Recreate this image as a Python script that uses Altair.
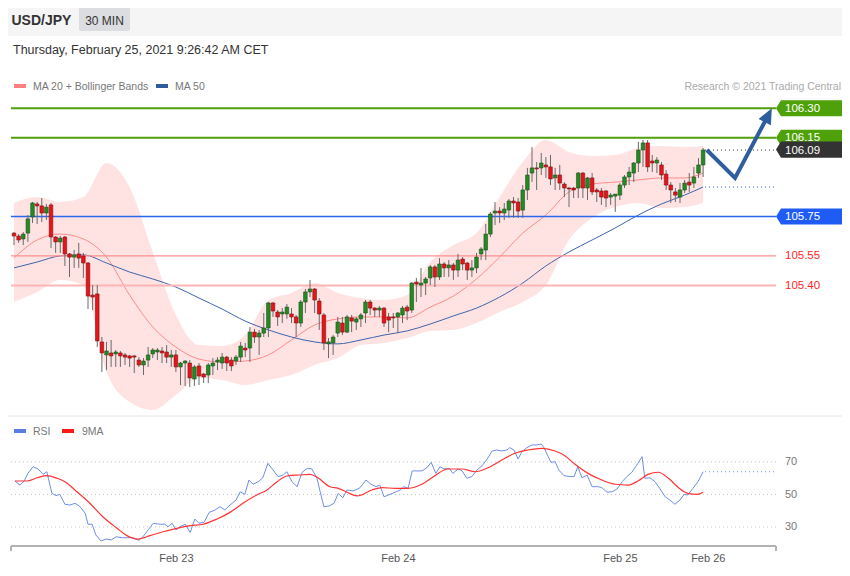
import altair as alt
import pandas as pd

FONT = "Liberation Sans, Arial, Helvetica, sans-serif"

# ---------------- data ----------------
OPEN = [105.666, 105.651, 105.636, 105.666, 105.748, 105.814, 105.804, 105.768, 105.809, 105.646,
        105.621, 105.646, 105.560, 105.544, 105.560, 105.550, 105.514, 105.351, 105.357, 105.113,
        105.047, 105.057, 105.052, 105.057, 105.047, 105.042, 105.042, 105.021, 104.996, 105.021,
        105.052, 105.062, 105.067, 105.062, 105.036, 105.047, 104.986, 105.006, 105.006, 104.925,
        104.991, 104.950, 104.945, 104.991, 105.011, 105.006, 105.036, 105.021, 105.016, 105.036,
        105.082, 105.082, 105.163, 105.138, 105.158, 105.184, 105.311, 105.265, 105.255, 105.255,
        105.255, 105.240, 105.209, 105.316, 105.367, 105.382, 105.321, 105.250, 105.103, 105.108,
        105.158, 105.209, 105.163, 105.235, 105.214, 105.230, 105.260, 105.316, 105.285, 105.275,
        105.285, 105.240, 105.240, 105.240, 105.250, 105.290, 105.275, 105.417, 105.402, 105.412,
        105.438, 105.494, 105.443, 105.509, 105.489, 105.504, 105.478, 105.534, 105.514, 105.478,
        105.489, 105.560, 105.580, 105.661, 105.768, 105.778, 105.768, 105.783, 105.829, 105.824,
        105.783, 105.885, 105.971, 105.997, 105.997, 106.012, 106.002, 105.946, 105.961, 105.915,
        105.895, 105.895, 105.895, 105.971, 105.895, 105.946, 105.885, 105.880, 105.880, 105.849,
        105.854, 105.859, 105.910, 105.951, 105.971, 106.022, 106.088, 106.124, 106.032, 106.022,
        106.012, 105.966, 105.910, 105.875, 105.849, 105.885, 105.925, 105.920, 105.971, 106.012]
HIGH = [105.671, 105.661, 105.671, 105.758, 105.824, 105.824, 105.844, 105.814, 105.819, 105.651,
        105.651, 105.651, 105.565, 105.580, 105.616, 105.565, 105.519, 105.402, 105.402, 105.138,
        105.113, 105.123, 105.072, 105.067, 105.057, 105.047, 105.047, 105.036, 105.031, 105.087,
        105.082, 105.082, 105.087, 105.097, 105.072, 105.072, 105.011, 105.021, 105.021, 104.996,
        105.006, 104.955, 105.006, 105.031, 105.036, 105.057, 105.042, 105.036, 105.047, 105.113,
        105.108, 105.189, 105.179, 105.174, 105.260, 105.316, 105.316, 105.275, 105.285, 105.306,
        105.285, 105.250, 105.326, 105.382, 105.428, 105.387, 105.336, 105.260, 105.133, 105.148,
        105.240, 105.240, 105.250, 105.250, 105.240, 105.260, 105.326, 105.326, 105.290, 105.296,
        105.290, 105.260, 105.260, 105.265, 105.296, 105.301, 105.417, 105.438, 105.489, 105.443,
        105.504, 105.504, 105.539, 105.519, 105.529, 105.514, 105.560, 105.544, 105.519, 105.529,
        105.565, 105.595, 105.712, 105.773, 105.824, 105.798, 105.819, 105.839, 105.849, 105.844,
        105.910, 105.997, 106.103, 106.027, 106.073, 106.052, 106.063, 105.997, 106.012, 105.925,
        105.900, 105.900, 105.976, 105.976, 105.951, 105.971, 105.895, 105.895, 105.885, 105.870,
        105.864, 105.920, 105.961, 106.002, 106.027, 106.129, 106.139, 106.139, 106.063, 106.052,
        106.027, 105.986, 105.925, 105.895, 105.920, 105.936, 105.971, 106.002, 106.047, 106.098]
LOW = [105.605, 105.616, 105.605, 105.621, 105.717, 105.712, 105.722, 105.732, 105.590, 105.565,
       105.565, 105.499, 105.443, 105.489, 105.489, 105.438, 105.280, 105.275, 105.087, 104.960,
       104.970, 104.986, 104.986, 104.986, 104.996, 104.986, 104.955, 104.986, 104.945, 104.986,
       105.031, 105.021, 105.006, 105.006, 104.986, 104.960, 104.894, 104.889, 104.884, 104.889,
       104.894, 104.904, 104.904, 104.945, 104.970, 104.976, 104.965, 104.965, 104.996, 105.011,
       105.036, 105.011, 105.108, 105.047, 105.138, 105.138, 105.240, 105.194, 105.209, 105.230,
       105.209, 105.138, 105.189, 105.260, 105.341, 105.260, 105.174, 105.072, 105.031, 105.047,
       105.138, 105.148, 105.158, 105.163, 105.174, 105.189, 105.209, 105.250, 105.240, 105.240,
       105.189, 105.163, 105.184, 105.158, 105.209, 105.224, 105.260, 105.316, 105.341, 105.351,
       105.402, 105.392, 105.428, 105.443, 105.443, 105.428, 105.443, 105.478, 105.428, 105.443,
       105.463, 105.529, 105.529, 105.646, 105.707, 105.717, 105.732, 105.743, 105.743, 105.743,
       105.743, 105.834, 105.925, 105.885, 105.961, 105.946, 105.910, 105.885, 105.885, 105.849,
       105.798, 105.844, 105.844, 105.844, 105.834, 105.859, 105.824, 105.809, 105.798, 105.809,
       105.773, 105.834, 105.895, 105.910, 105.925, 105.976, 106.002, 105.976, 105.976, 105.971,
       105.936, 105.885, 105.819, 105.824, 105.819, 105.870, 105.875, 105.895, 105.946, 105.951]
CLOSE = [105.651, 105.631, 105.661, 105.738, 105.819, 105.804, 105.768, 105.798, 105.646, 105.621,
         105.641, 105.560, 105.544, 105.555, 105.539, 105.514, 105.346, 105.341, 105.118, 105.057,
         105.067, 105.042, 105.062, 105.042, 105.036, 105.031, 105.036, 104.996, 105.016, 105.047,
         105.072, 105.072, 105.057, 105.036, 105.047, 104.986, 105.006, 105.016, 104.930, 104.986,
         104.940, 104.935, 104.996, 105.006, 105.021, 105.036, 105.006, 104.991, 105.036, 105.092,
         105.072, 105.163, 105.138, 105.158, 105.184, 105.311, 105.270, 105.240, 105.265, 105.290,
         105.240, 105.209, 105.316, 105.367, 105.382, 105.326, 105.255, 105.108, 105.113, 105.138,
         105.214, 105.163, 105.240, 105.219, 105.230, 105.250, 105.316, 105.285, 105.275, 105.285,
         105.209, 105.224, 105.235, 105.260, 105.285, 105.270, 105.412, 105.407, 105.412, 105.433,
         105.494, 105.443, 105.509, 105.489, 105.504, 105.478, 105.529, 105.509, 105.478, 105.489,
         105.544, 105.585, 105.661, 105.763, 105.778, 105.768, 105.788, 105.829, 105.819, 105.778,
         105.885, 105.961, 105.997, 105.992, 106.022, 106.002, 105.941, 105.961, 105.920, 105.895,
         105.890, 105.885, 105.971, 105.895, 105.946, 105.875, 105.875, 105.849, 105.844, 105.859,
         105.864, 105.910, 105.951, 105.976, 106.022, 106.088, 106.124, 106.002, 106.022, 106.037,
         105.961, 105.910, 105.885, 105.859, 105.885, 105.920, 105.910, 105.951, 106.012, 106.088]

BAND_IDX = [0, 5, 10, 15, 20, 25, 30, 35, 40, 45, 50, 55, 60, 65, 70, 75, 80, 85, 90, 95,
            100, 105, 110, 115, 120, 125, 130, 135, 140, 145, 149]
BB_UPPER = [105.819, 105.849, 105.824, 105.849, 106.022, 105.900, 105.570, 105.250, 105.097, 105.092,
            105.148, 105.326, 105.362, 105.412, 105.362, 105.336, 105.326, 105.351, 105.519, 105.605,
            105.666, 105.849, 106.027, 106.139, 106.078, 106.058, 106.063, 106.098, 106.108, 106.103,
            106.108]
BB_LOWER = [105.316, 105.367, 105.428, 105.402, 104.960, 104.808, 104.767, 104.843, 104.930, 104.920,
            104.894, 104.920, 104.945, 104.996, 105.031, 105.097, 105.108, 105.133, 105.169, 105.174,
            105.209, 105.265, 105.316, 105.402, 105.631, 105.743, 105.798, 105.819, 105.793, 105.798,
            105.819]
MA20 = [105.539, 105.631, 105.661, 105.636, 105.544, 105.351, 105.189, 105.087, 105.026, 105.011,
        105.016, 105.047, 105.123, 105.199, 105.230, 105.240, 105.240, 105.235, 105.290, 105.346,
        105.433, 105.544, 105.666, 105.758, 105.875, 105.915, 105.925, 105.936, 105.946, 105.946,
        105.971]
MA50 = [105.489, 105.519, 105.550, 105.555, 105.514, 105.468, 105.433, 105.392, 105.336, 105.280,
        105.219, 105.174, 105.138, 105.113, 105.103, 105.123, 105.148, 105.169, 105.204, 105.245,
        105.285, 105.341, 105.412, 105.499, 105.570, 105.631, 105.692, 105.758, 105.814, 105.859,
        105.900]

RSI_IDX = [0.2, 1.3, 2.2, 3.0, 4.1, 5.2, 6.3, 7.1, 8.2, 9.1, 9.9, 11.0, 12.1, 13.2, 14.3, 15.4,
           16.0, 16.9, 17.7, 18.8, 19.9, 21.0, 22.1, 23.4, 24.4, 25.7, 27.0, 27.9, 29.0, 30.1,
           31.6, 32.6, 33.3, 34.2, 35.0, 35.9, 37.0, 38.1, 39.1, 40.0, 41.1, 42.2, 43.5, 44.5,
           45.6, 46.7, 48.0, 48.9, 49.9, 50.8, 51.7, 52.8, 53.8, 54.9, 56.0, 57.1, 58.2, 59.0,
           60.1, 61.2, 62.3, 63.4, 64.4, 65.5, 66.2, 67.0, 68.1, 69.2, 70.1, 71.1, 72.0, 73.3,
           74.6, 75.0, 76.1, 77.2, 78.3, 79.1, 80.0, 81.3, 82.4, 83.5, 84.3, 85.2, 86.1, 87.1,
           88.2, 89.3, 90.2, 91.2, 92.1, 93.0, 94.1, 94.9, 96.0, 96.9, 97.9, 99.0, 100.1, 101.2,
           102.3, 103.4, 104.4, 105.5, 106.6, 107.2, 108.1, 109.0, 109.8, 110.9, 112.0, 113.1,
           114.0, 114.6, 115.5, 116.1, 117.0, 117.8, 118.9, 120.2, 121.1, 121.9, 122.8, 123.9,
           125.0, 126.3, 127.1, 128.2, 129.3, 130.4, 131.5, 132.5, 133.6, 134.9, 135.8, 136.4,
           137.5, 138.6, 139.7, 140.8, 141.8, 142.9, 144.0, 144.9, 145.7, 146.8, 147.9, 149.0]
RSI_VAL = [58.3, 55.8, 58.3, 63.0, 67.1, 65.7, 62.4, 64.0, 50.7, 49.3, 50.1, 44.0, 43.5, 44.6, 42.5, 38.4,
           31.7, 31.7, 25.1, 21.4, 22.6, 22.0, 24.0, 23.4, 23.4, 23.4, 21.8, 24.0, 28.2, 32.3,
           31.7, 31.7, 30.2, 32.3, 28.2, 30.2, 31.7, 26.7, 34.9, 32.3, 32.9, 39.0, 40.5, 42.5,
           40.5, 43.5, 46.6, 51.7, 50.1, 58.9, 56.3, 57.9, 60.3, 69.2, 65.1, 61.0, 62.0, 64.0,
           57.9, 54.8, 63.7, 66.1, 65.7, 60.0, 51.7, 42.5, 42.9, 44.6, 50.7, 48.0, 52.8, 52.2,
           53.8, 54.8, 58.9, 56.3, 54.8, 55.8, 48.6, 50.1, 51.4, 52.8, 54.8, 53.8, 64.5, 64.5,
           64.5, 66.5, 69.8, 63.0, 67.1, 65.7, 66.1, 63.0, 65.7, 64.5, 60.0, 61.0, 65.1, 67.7,
           71.8, 76.8, 77.4, 76.8, 77.4, 78.8, 77.4, 71.8, 76.3, 78.8, 80.5, 80.5,
           81.1, 78.8, 73.3, 69.8, 70.2, 65.1, 61.6, 61.0, 61.0, 67.1, 60.3, 62.0,
           54.8, 54.8, 54.2, 51.4, 51.7, 53.4, 57.9, 61.0, 63.7, 69.2, 73.3, 60.0,
           60.3, 57.9, 53.4, 48.6, 46.6, 44.0, 46.6, 50.1, 49.7, 53.8, 57.9, 64.0]
RSI9_IDX = [0.2, 2.8, 5.0, 7.1, 9.3, 11.0, 13.6, 16.4, 19.2, 22.3, 24.4, 26.8, 29.4, 32.2, 35.2,
            38.1, 40.9, 43.9, 46.7, 49.5, 52.5, 54.7, 56.9, 59.0, 61.8, 64.0, 65.7, 68.3, 70.1,
            72.0, 74.2, 77.4, 79.6, 82.4, 85.2, 88.2, 91.0, 93.8, 96.9, 99.7, 102.5, 105.5,
            108.3, 111.1, 114.2, 117.0, 119.1, 121.3, 124.1, 127.1, 130.0, 132.8, 134.9, 137.1,
            139.3, 141.5, 143.7, 145.7, 147.7, 149.0]
RSI9_VAL = [58.3, 58.3, 60.3, 61.6, 60.0, 57.9, 51.7, 44.6, 36.3, 29.2, 24.7, 22.6, 24.7, 27.1, 29.2,
            30.8, 31.7, 34.9, 39.0, 44.6, 49.7, 52.8, 57.9, 61.4, 62.0, 62.4, 60.3, 54.8, 53.8,
            51.4, 49.1, 52.8, 54.2, 53.8, 53.8, 56.3, 61.6, 65.7, 65.7, 64.0, 66.5, 71.2,
            75.4, 77.4, 78.4, 76.8, 73.9, 68.6, 63.0, 58.9, 56.3, 55.8, 58.3, 62.4,
            63.7, 60.0, 54.2, 50.7, 50.1, 51.4]

LEVELS = [106.30, 106.15, 105.75, 105.55, 105.40]
TAG_LEVELS = [106.30, 106.15, 106.09, 105.75]
TEXT_LEVELS = [105.55, 105.40]
RSI_LEVELS = [70, 50, 30]
ARROW_IDX = [149.8, 155.9, 163.0]
ARROW_PRICE = [106.088, 105.946, 106.261]
XTICK_IDX = [35, 83, 131, 150]
XTICK_LABELS = ["Feb 23", "Feb 24", "Feb 25", "Feb 26"]

TITLE = "USD/JPY"
PERIOD = "30 MIN"
DATE_TEXT = "Thursday, February 25, 2021 9:26:42 AM CET"
COPYRIGHT = "Research \u00a9 2021 Trading Central"

# ---------------- layout / scales ----------------
W, H = 834, 560
X_DOM = [-1.2973, 179.027]
P_DOM = [103.9646, 106.8094]
R_DOM = [4.77, 349.38]
X_LEFT, X_RIGHT = -0.649, 164.76
X_EXT = 149.4
LABEL_X = 166.7
TAG_X = 172.32
AXIS_R, TICK_R = 18.31, 15.23

xs = alt.Scale(domain=X_DOM, nice=False, zero=False, padding=0)
ps = alt.Scale(domain=P_DOM, nice=False, zero=False, padding=0)
rs = alt.Scale(domain=R_DOM, nice=False, zero=False, padding=0)

GREEN, RED = "#238b23", "#e8141a"
TAG_PATH = "M -1 0 L -0.857 -0.229 L 1 -0.229 L 1 0.229 L -0.857 0.229 Z"
HEAD_PATH = "M 0 -1 L 0.8 0.8 L -0.8 0.8 Z"

candles = pd.DataFrame({"i": list(range(len(CLOSE))), "o": OPEN, "h": HIGH, "l": LOW, "c": CLOSE})
bands = pd.DataFrame({"i": BAND_IDX, "up": BB_UPPER, "lo": BB_LOWER, "ma20": MA20, "ma50": MA50})
rsi = pd.DataFrame({"i": RSI_IDX, "v": RSI_VAL})
rsi9 = pd.DataFrame({"i": RSI9_IDX, "v": RSI9_VAL})
one = pd.DataFrame({"z": [0]})

label_expr = " : ".join(f"datum.value == {v} ? '{t}'" for v, t in zip(XTICK_IDX, XTICK_LABELS)) + " : ''"
XAXIS = alt.Axis(values=XTICK_IDX, labelExpr=label_expr, orient="bottom", offset=-22, domain=False,
                 ticks=False, grid=False, labelPadding=6, labelFont=FONT, labelFontSize=11,
                 labelColor="#555555", labelFlush=False, labelOverlap=False, title=None)


def X(f="i"):
    return alt.X(f"{f}:Q", scale=xs, axis=XAXIS)


def PY(f):
    return alt.Y(f"{f}:Q", scale=ps, axis=None)


def RY(f):
    return alt.Y(f"{f}:Q", scale=rs, axis=None)


def ptext(txt, x, y, size, color, weight="normal", align="left"):
    return alt.Chart(one).mark_text(text=txt, font=FONT, fontSize=size, color=color,
                                    fontWeight=weight, align=align, baseline="middle").encode(
        x=alt.value(x), y=alt.value(y))


def prect(x, x2, y, y2, color, r=0):
    return alt.Chart(one).mark_rect(color=color, cornerRadius=r).encode(
        x=alt.value(x), x2=alt.value(x2), y=alt.value(y), y2=alt.value(y2))


layers = []
# header
layers.append(prect(0, W, 0, 28, "#f5f5f6"))
layers.append(prect(71, 122, -1, 23, "#dcdde0", 2))
layers.append(ptext(TITLE, 3.5, 12.5, 14, "#333333", "bold"))
layers.append(ptext(PERIOD, 96.5, 12.5, 12, "#333333", align="center"))
layers.append(ptext(DATE_TEXT, 5, 42, 12.5, "#333333"))
# legends
layers.append(prect(6, 18, 76, 80, "#ff8080"))
layers.append(ptext("MA 20 + Bollinger Bands", 25, 79, 10.5, "#777777"))
layers.append(prect(148, 160, 76, 80, "#2f5c9a"))
layers.append(ptext("MA 50", 167, 79, 10.5, "#777777"))
layers.append(ptext(COPYRIGHT, 833, 79, 10.5, "#aaaaaa", align="right"))
layers.append(alt.Chart(one).mark_rule(color="#e6e6e6", strokeWidth=1).encode(
    x=alt.value(0), x2=alt.value(W), y=alt.value(408)))
layers.append(prect(6, 18, 421, 425, "#5b7fe0"))
layers.append(ptext("RSI", 25, 424, 10.5, "#777777"))
layers.append(prect(54, 66, 421, 425, "#ff1a1a"))
layers.append(ptext("9MA", 74, 424, 10.5, "#777777"))

# Bollinger band + moving averages
layers.append(alt.Chart(bands).mark_area(color="#ffe3e3", interpolate="monotone").encode(
    x=X(), y=PY("lo"), y2="up:Q"))
layers.append(alt.Chart(bands).mark_line(color="#ff8a8a", strokeWidth=1, interpolate="monotone").encode(
    x=X(), y=PY("ma20")))
layers.append(alt.Chart(bands).mark_line(color="#3d65aa", strokeWidth=1, interpolate="monotone").encode(
    x=X(), y=PY("ma50")))

# horizontal levels
LEVEL_STYLE = {106.30: ("#50a00c", 2), 106.15: ("#50a00c", 2), 105.75: ("#2b66f0", 1.5),
               105.55: ("#ff8f8f", 1.2), 105.40: ("#ffb5b5", 2)}
for lv in LEVELS:
    col, w = LEVEL_STYLE[lv]
    d = pd.DataFrame({"p": [lv], "x0": [X_LEFT], "x1": [X_RIGHT]})
    layers.append(alt.Chart(d).mark_rule(color=col, strokeWidth=w).encode(
        x=X("x0"), x2="x1:Q", y=PY("p")))

# dotted extensions from last candle
for val, col in [(CLOSE[-1], "#333333"), (MA50[-1], "#3d65aa")]:
    d = pd.DataFrame({"p": [val], "x0": [X_EXT], "x1": [X_RIGHT]})
    layers.append(alt.Chart(d).mark_rule(color=col, strokeWidth=1, strokeDash=[1, 3]).encode(
        x=X("x0"), x2="x1:Q", y=PY("p")))

# candles
layers.append(alt.Chart(candles).mark_rule(color="#6a6a6a", strokeWidth=1).encode(
    x=X(), y=PY("l"), y2="h:Q"))
layers.append(alt.Chart(candles).transform_filter("datum.c >= datum.o").mark_bar(
    size=3.6, color=GREEN, stroke="#1d4f1d", strokeWidth=0.6).encode(
    x=X(), y=PY("o"), y2="c:Q"))
layers.append(alt.Chart(candles).transform_filter("datum.c < datum.o").mark_bar(
    size=3.6, color=RED, stroke="#7a1010", strokeWidth=0.6).encode(
    x=X(), y=PY("o"), y2="c:Q"))

# forecast arrow
arrow = pd.DataFrame({"i": ARROW_IDX, "p": ARROW_PRICE})
layers.append(alt.Chart(arrow).mark_line(color="#2e5e9e", strokeWidth=4, strokeJoin="miter").encode(
    x=X(), y=PY("p")))
layers.append(alt.Chart(arrow.tail(1)).mark_point(shape=HEAD_PATH, size=300, filled=True,
                                                  fill="#2e5e9e", opacity=1, angle=27,
                                                  strokeWidth=0).encode(x=X(), y=PY("p")))

# price tags
TAG_COLORS = {106.30: "#4fa10a", 106.15: "#4fa10a", 106.09: "#333333", 105.75: "#1f5cf5"}
TAG_DY = {106.30: 0.5, 106.15: 0, 106.09: 1.5, 105.75: 0.5}
for lv in TAG_LEVELS:
    d = pd.DataFrame({"p": [lv], "tx": [TAG_X], "lx": [LABEL_X]})
    layers.append(alt.Chart(d).mark_point(shape=TAG_PATH, size=4900, filled=True, opacity=1,
                                          fill=TAG_COLORS[lv], strokeWidth=0).encode(
        x=X("tx"), y=PY("p")))
    layers.append(alt.Chart(d).mark_text(font=FONT, fontSize=11.5, color="white", align="left",
                                         baseline="middle", dy=TAG_DY[lv]).encode(
        x=X("lx"), y=PY("p"), text=alt.Text("p:Q", format=".2f")))
tl = pd.DataFrame({"p": TEXT_LEVELS, "lx": [LABEL_X] * len(TEXT_LEVELS)})
layers.append(alt.Chart(tl).mark_text(font=FONT, fontSize=11.5, color="#ff1f1f", align="left",
                                      baseline="middle", dy=0.5).encode(
    x=X("lx"), y=PY("p"), text=alt.Text("p:Q", format=".2f")))

# RSI panel
rl = pd.DataFrame({"r": RSI_LEVELS, "x0": [X_LEFT] * 3, "x1": [X_RIGHT] * 3, "lx": [LABEL_X] * 3})
layers.append(alt.Chart(rl).mark_rule(color="#c4c4c4", strokeWidth=1, strokeDash=[1, 3]).encode(
    x=X("x0"), x2="x1:Q", y=RY("r")))
layers.append(alt.Chart(rl).mark_text(font=FONT, fontSize=11, color="#777777", align="left",
                                      baseline="middle").encode(
    x=X("lx"), y=RY("r"), text="r:Q"))
rext = pd.DataFrame({"r": [RSI_VAL[-1]], "x0": [X_EXT], "x1": [X_RIGHT]})
layers.append(alt.Chart(rext).mark_rule(color="#6d8fe8", strokeWidth=1, strokeDash=[1, 3]).encode(
    x=X("x0"), x2="x1:Q", y=RY("r")))

layers.append(alt.Chart(rsi).mark_line(color="#6d8fe8", strokeWidth=1).encode(
    x=X(), y=RY("v")))
layers.append(alt.Chart(rsi9).mark_line(color="#ff3333", strokeWidth=1.2, interpolate="monotone").encode(
    x=X(), y=RY("v")))

# x axis baseline with end ticks
ax = pd.DataFrame({"x0": [X_LEFT], "x1": [X_RIGHT], "r": [AXIS_R]})
layers.append(alt.Chart(ax).mark_rule(color="#b3b3b3", strokeWidth=2).encode(
    x=X("x0"), x2="x1:Q", y=RY("r")))
tk = pd.DataFrame({"x": [X_LEFT, X_RIGHT], "r0": [AXIS_R, AXIS_R], "r1": [TICK_R, TICK_R]})
layers.append(alt.Chart(tk).mark_rule(color="#b3b3b3", strokeWidth=2).encode(
    x=X("x"), y=RY("r0"), y2="r1:Q"))

chart = alt.layer(*layers).resolve_scale(y="independent").properties(
    width=W, height=H, autosize="none", padding=0).configure_view(strokeWidth=0)

chart.save("out.html", embed_options={"renderer": "svg", "actions": False})
